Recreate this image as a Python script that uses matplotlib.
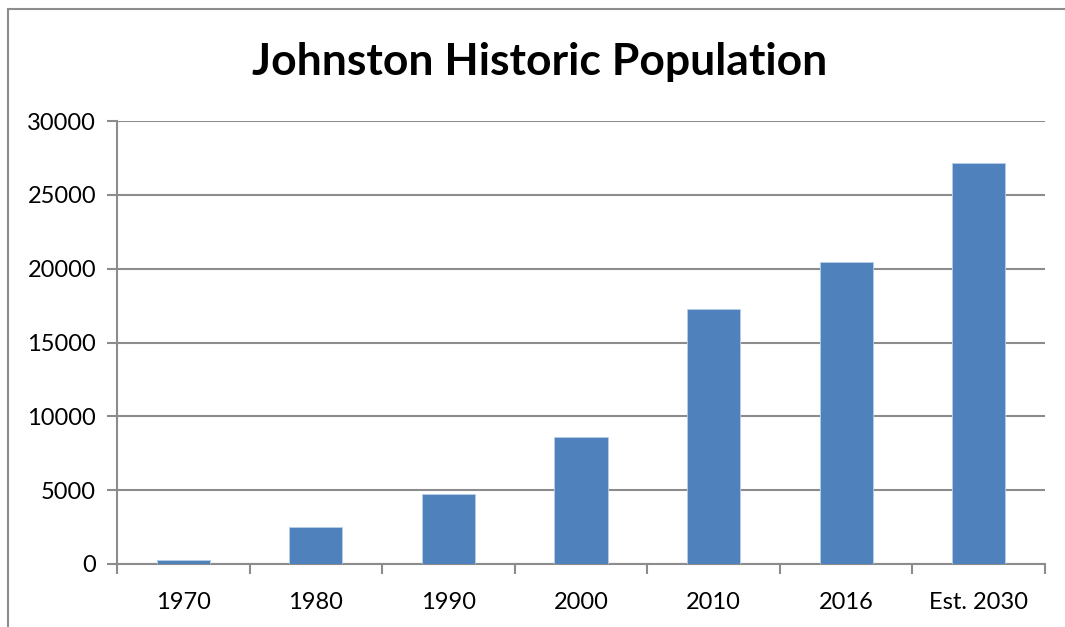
import numpy as np
import matplotlib.pyplot as plt

years = ["1970", "1980", "1990", "2000", "2010", "2016", "Est. 2030"]
population = [250, 2520, 4730, 8620, 17270, 20450, 27130]
yticks = [0, 5000, 10000, 15000, 20000, 25000, 30000]

plt.rcParams["font.family"] = ["Lato", "DejaVu Sans"]

fig = plt.figure(figsize=(10.65, 6.27), dpi=100)
ax = fig.add_axes([117 / 1065, 1 - 564 / 627, 928 / 1065, 443 / 627])

# outer chart frame
frame = plt.Rectangle((8 / 1065, -0.1), 1.2, 1 - 9 / 627 + 0.1, transform=fig.transFigure,
                      fill=False, edgecolor="#8c8c8c", linewidth=1.5, clip_on=False)
fig.patches.append(frame)

x = np.arange(len(years))
ax.bar(x, population, width=0.4, color="#4f81bd", edgecolor="#b9cde5", linewidth=0.6, zorder=3)

ax.set_xlim(-0.5, len(years) - 0.5)
ax.set_ylim(0, 30000)
ax.set_yticks(yticks)
ax.set_yticklabels([str(v) for v in yticks], fontsize=17)
ax.set_xticks(x)
ax.set_xticklabels(years, fontsize=17)
ax.tick_params(axis="x", length=0, pad=20)
ax.set_xticks(np.arange(-0.5, len(years)), minor=True)
ax.tick_params(axis="x", which="minor", length=7, width=1.5, color="#8c8c8c", direction="out")
ax.tick_params(axis="y", length=7, width=1.5, color="#8c8c8c", direction="out", pad=8)

ax.grid(axis="y", color="#8c8c8c", linewidth=1.5, zorder=0)
for s in ["top", "right"]:
    ax.spines[s].set_visible(False)
ax.spines["left"].set_color("#8c8c8c")
ax.spines["bottom"].set_color("#8c8c8c")
ax.spines["left"].set_linewidth(1.5)
ax.spines["bottom"].set_linewidth(1.5)

fig.text(540 / 1065, 1 - 62 / 627, "Johnston Historic Population", fontsize=32,
         fontweight="bold", ha="center", va="center")

fig.savefig("out.png", dpi=100)
